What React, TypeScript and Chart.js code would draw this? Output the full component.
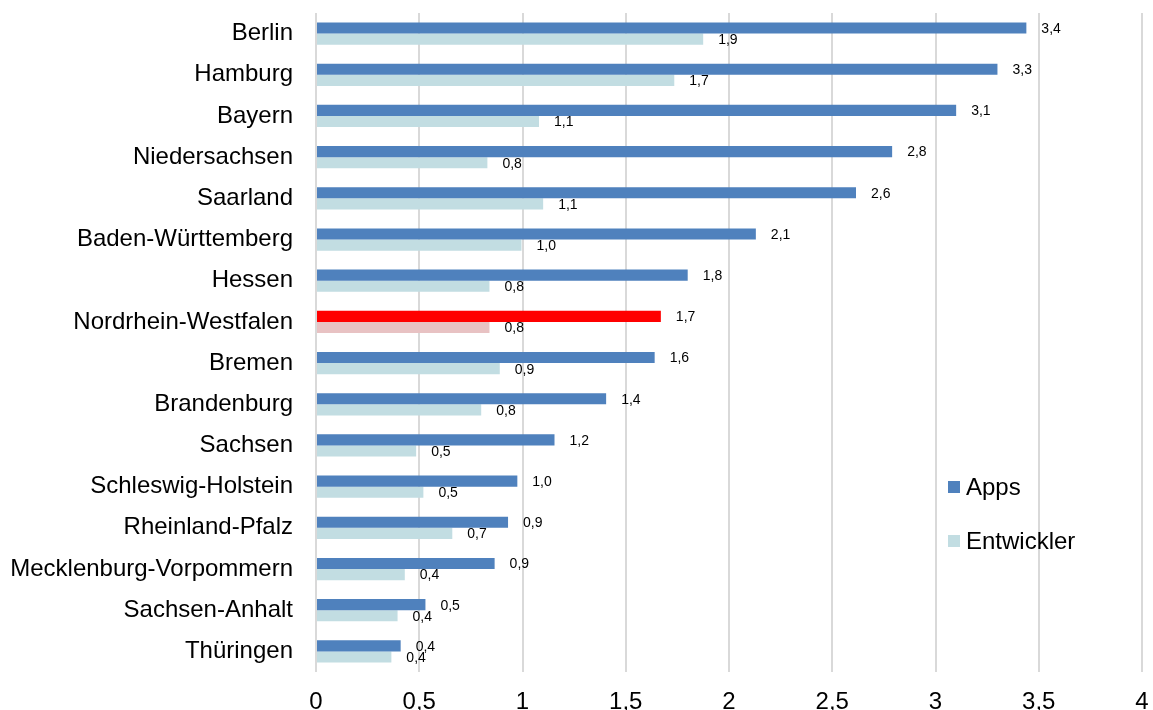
import React, { useEffect, useRef } from "react";
import { Chart, registerables } from "chart.js";

Chart.register(...registerables);

const categories = [
  "Berlin",
  "Hamburg",
  "Bayern",
  "Niedersachsen",
  "Saarland",
  "Baden-Württemberg",
  "Hessen",
  "Nordrhein-Westfalen",
  "Bremen",
  "Brandenburg",
  "Sachsen",
  "Schleswig-Holstein",
  "Rheinland-Pfalz",
  "Mecklenburg-Vorpommern",
  "Sachsen-Anhalt",
  "Thüringen",
];

const appsValues = [3.44, 3.3, 3.1, 2.79, 2.615, 2.13, 1.8, 1.67, 1.64, 1.405, 1.155, 0.975, 0.93, 0.865, 0.53, 0.41];
const entwicklerValues = [1.875, 1.735, 1.08, 0.83, 1.1, 0.995, 0.84, 0.84, 0.89, 0.8, 0.485, 0.52, 0.66, 0.43, 0.395, 0.365];

const highlightCategory = "Nordrhein-Westfalen";
const xTicksMax = 4;
const xTicksStep = 0.5;

const FONT = "'Liberation Sans', Arial, Helvetica, sans-serif";
const APPS_COLOR = "#4F81BD";
const ENT_COLOR = "#C2DDE2";
const APPS_HL = "#FF0000";
const ENT_HL = "#E8C2C3";

const fmt = (v: number) => v.toFixed(1).replace(".", ",");

const dataLabelPlugin = {
  id: "dataLabels",
  afterDatasetsDraw(chart: any) {
    const ctx = chart.ctx;
    ctx.save();
    ctx.font = `14px ${FONT}`;
    ctx.fillStyle = "#000";
    ctx.textAlign = "left";
    ctx.textBaseline = "middle";
    chart.data.datasets.forEach((ds: any, di: number) => {
      const meta = chart.getDatasetMeta(di);
      meta.data.forEach((el: any, i: number) => {
        ctx.fillText(fmt(ds.data[i]), el.x + 15, el.y + 1);
      });
    });
    ctx.restore();
  },
};

const legendPlugin = {
  id: "customLegend",
  afterDraw(chart: any) {
    const ctx = chart.ctx;
    const items = [
      { label: "Apps", color: APPS_COLOR, y: 487 },
      { label: "Entwickler", color: ENT_COLOR, y: 541 },
    ];
    ctx.save();
    ctx.font = `24px ${FONT}`;
    ctx.textAlign = "left";
    ctx.textBaseline = "middle";
    items.forEach((it) => {
      ctx.fillStyle = it.color;
      ctx.fillRect(948, it.y - 6, 12, 12);
      ctx.fillStyle = "#000";
      ctx.fillText(it.label, 966, it.y + 1);
    });
    ctx.restore();
  },
};

const zeroPadding = (scale: any) => {
  scale.paddingTop = 0;
  scale.paddingBottom = 0;
  scale.paddingLeft = 0;
  scale.paddingRight = 0;
};

export default function App() {
  const ref = useRef<HTMLCanvasElement>(null);

  useEffect(() => {
    if (!ref.current) return;
    const appsColors = categories.map((c) => (c === highlightCategory ? APPS_HL : APPS_COLOR));
    const entColors = categories.map((c) => (c === highlightCategory ? ENT_HL : ENT_COLOR));
    const chart = new Chart(ref.current, {
      type: "bar",
      data: {
        labels: categories,
        datasets: [
          {
            label: "Apps",
            data: appsValues,
            backgroundColor: appsColors,
            categoryPercentage: 0.54,
            barPercentage: 1.0,
          },
          {
            label: "Entwickler",
            data: entwicklerValues,
            backgroundColor: entColors,
            categoryPercentage: 0.54,
            barPercentage: 1.0,
          },
        ],
      },
      options: {
        indexAxis: "y",
        responsive: false,
        animation: false,
        layout: { padding: { top: 13, right: 11, left: 0, bottom: 0 } },
        plugins: {
          legend: { display: false },
          tooltip: { enabled: false },
        },
        scales: {
          x: {
            min: 0,
            max: xTicksMax,
            ticks: {
              stepSize: xTicksStep,
              color: "#000",
              font: { family: FONT, size: 24 },
              padding: 16,
              callback: (v: any) => String(v).replace(".", ","),
            },
            grid: { color: "#D9D9D9", lineWidth: 2, drawTicks: false },
            border: { display: false },
            afterFit: (scale: any) => {
              scale.height = 38;
              zeroPadding(scale);
            },
          },
          y: {
            ticks: {
              color: "#000",
              font: { family: FONT, size: 24 },
              padding: 23,
            },
            grid: { display: false, drawTicks: false },
            border: { display: false },
            afterFit: (scale: any) => {
              scale.width = 316;
              zeroPadding(scale);
            },
          },
        },
      },
      plugins: [dataLabelPlugin, legendPlugin],
    });
    return () => chart.destroy();
  }, []);

  return (
    <div style={{ position: "fixed", left: 0, top: 0, width: 1153, height: 710, background: "#fff" }}>
      <canvas ref={ref} width={1153} height={710} />
    </div>
  );
}
